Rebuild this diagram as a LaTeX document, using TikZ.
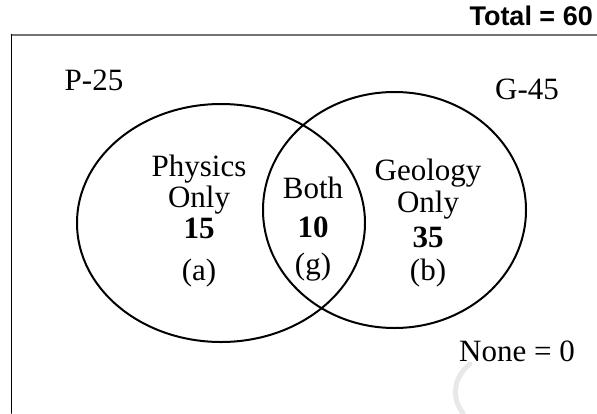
\documentclass[tikz,border=0pt]{standalone}
\usepackage{fontspec}
\setmainfont{Liberation Serif}
\newfontfamily\totalfont{Liberation Sans}
\usepackage{tikz}

\begin{document}
\begin{tikzpicture}[x=1pt,y=-1pt,line cap=round,
  txt/.style={font=\fontsize{31}{33}\selectfont,inner sep=0pt,anchor=base},
  num/.style={txt,font=\fontsize{31}{33}\selectfont\bfseries}]
\useasboundingbox (0,0) rectangle (597,413);
% frame
\draw[gray!90!black,line width=2pt] (11.5,34.5) -- (597,34.5);
\draw[line width=1.5pt] (11.5,34.5) -- (11.5,413);
% sets
\draw[line width=2pt] (221,223) ellipse [x radius=144,y radius=119];
\draw[line width=2pt] (394.5,210) ellipse [x radius=131.5,y radius=118];
% faint mark
\draw[gray!18,line width=5pt] (470,364) .. controls (452,378) and (452,400) .. (463,413);
% labels
\node[font=\totalfont\fontsize{27}{29}\selectfont\bfseries,inner sep=0pt,anchor=east] (total) at (593,16) {Total = 60};
\node[txt,anchor=center] (p) at (94,80) {P-25};
\node[txt,anchor=center] (g) at (527,89) {G-45};
\node[txt] (phys) at (199,176) {Physics};
\node[txt] (ponly) at (199,207) {Only};
\node[num] (pval) at (199,238) {15};
\node[txt,anchor=center] (pa) at (199,273) {(a)};
\node[txt] (both) at (313,198) {Both};
\node[num] (bval) at (313,237) {10};
\node[txt,anchor=center] (bg) at (313,267) {(g)};
\node[txt] (geo) at (428,180) {Geology};
\node[txt] (gonly) at (428,212) {Only};
\node[num] (gval) at (428,247) {35};
\node[txt,anchor=center] (gb) at (428,273) {(b)};
\node[txt,anchor=center] (none) at (517,351) {None = 0};
\end{tikzpicture}
\end{document}
